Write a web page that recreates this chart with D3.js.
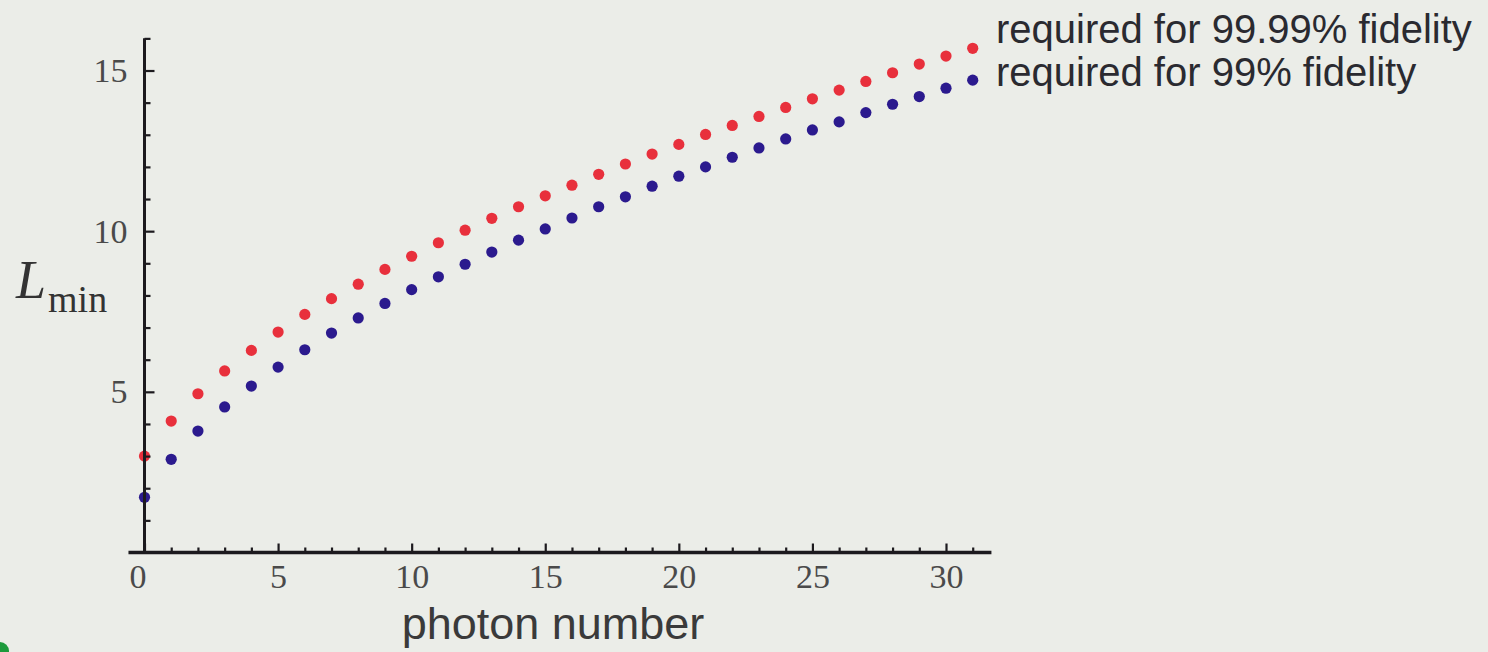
<!DOCTYPE html>
<html>
<head>
<meta charset="utf-8">
<script src="https://cdn.jsdelivr.net/npm/d3@7"></script>
<style>
  html, body { margin: 0; padding: 0; background: #ebede8; }
  svg { display: block; }
</style>
</head>
<body>
<svg id="chart" width="1488" height="652"></svg>
<script>
// photon number n = 0..31
const photonNumbers = d3.range(0, 32);

// minimum L needed for 99.99% fidelity
const lmin9999 = [3.00, 4.09, 4.94, 5.65, 6.29, 6.86, 7.41, 7.90, 8.35, 8.81,
                  9.22, 9.64, 10.03, 10.40, 10.76, 11.10, 11.43, 11.77, 12.09, 12.40,
                  12.70, 13.01, 13.29, 13.57, 13.85, 14.12, 14.39, 14.66, 14.93, 15.20,
                  15.45, 15.69];

// minimum L needed for 99% fidelity
const lmin99 = [1.72, 2.90, 3.78, 4.53, 5.18, 5.77, 6.31, 6.83, 7.30, 7.75,
                8.18, 8.58, 8.97, 9.35, 9.72, 10.07, 10.41, 10.76, 11.07, 11.40,
                11.71, 12.00, 12.30, 12.59, 12.87, 13.15, 13.40, 13.69, 13.95, 14.19,
                14.45, 14.70];

const seriesLabels = ["required for 99.99% fidelity", "required for 99% fidelity"];
const xMajorTicks = [0, 5, 10, 15, 20, 25, 30];
const yMajorTicks = [5, 10, 15];

const svg = d3.select("#chart");

const x = d3.scaleLinear().domain([0, 30]).range([144.5, 946]);
const y = d3.scaleLinear().domain([0, 15]).range([552.5, 70.5]);

const xExtent = [-0.6, 31.7];
const yExtent = [0, 16];

const series = [
  { values: lmin9999, color: "#e8303c", label: seriesLabels[0] },
  { values: lmin99,   color: "#2b1a8e", label: seriesLabels[1] }
];

// data points
const pts = svg.append("g");
series.forEach(s => {
  pts.append("g").selectAll("circle")
    .data(photonNumbers)
    .join("circle")
    .attr("cx", d => x(d))
    .attr("cy", (d, i) => y(s.values[i]))
    .attr("r", 5.6)
    .attr("fill", s.color);
});

// axes
const axisColor = "#1c1a1e";
const tickFont = "'Liberation Serif', 'Times New Roman', serif";

const gx = svg.append("g").attr("transform", `translate(0,${y(0)})`);
gx.call(d3.axisBottom(x).tickValues(d3.range(1, 32).filter(v => v % 5 !== 0))
  .tickSize(-5).tickFormat(""));
gx.call(g => g.selectAll(".domain").remove());
const gxMajor = svg.append("g").attr("transform", `translate(0,${y(0)})`);
gxMajor.call(d3.axisBottom(x).tickValues(xMajorTicks).tickSize(-9).tickPadding(11)
  .tickFormat(d3.format("d")));
gxMajor.call(g => g.selectAll(".domain").remove());
// origin label sits just left of the crossing point
gxMajor.selectAll(".tick text").filter(d => d === 0).attr("dx", -7);

const gy = svg.append("g").attr("transform", `translate(${x(0)},0)`);
gy.call(d3.axisLeft(y).tickValues(d3.range(1, 17).filter(v => v % 5 !== 0))
  .tickSize(-6).tickFormat(""));
gy.call(g => g.selectAll(".domain").remove());
const gyMajor = svg.append("g").attr("transform", `translate(${x(0)},0)`);
gyMajor.call(d3.axisLeft(y).tickValues(yMajorTicks).tickSize(-10).tickPadding(17)
  .tickFormat(d3.format("d")));
gyMajor.call(g => g.selectAll(".domain").remove());

svg.selectAll(".tick line").attr("stroke", axisColor).attr("stroke-width", 2.2);
svg.selectAll(".tick text")
  .attr("font-family", tickFont)
  .attr("font-size", 34)
  .attr("fill", "#4a4a4a");

// axis lines
svg.append("line")
  .attr("x1", x(xExtent[0])).attr("x2", x(xExtent[1]))
  .attr("y1", y(0)).attr("y2", y(0))
  .attr("stroke", axisColor).attr("stroke-width", 3.5);
svg.append("line")
  .attr("x1", x(0)).attr("x2", x(0))
  .attr("y1", y(yExtent[0])).attr("y2", y(yExtent[1]))
  .attr("stroke", axisColor).attr("stroke-width", 3);

// y axis label: L_min
const yl = svg.append("text")
  .attr("x", 16).attr("y", 298)
  .attr("font-family", tickFont)
  .attr("fill", "#333");
yl.append("tspan").attr("font-style", "italic").attr("font-size", 54).text("L");
yl.append("tspan").attr("font-size", 38).attr("dy", 14).attr("dx", 2).text("min");

// x axis label
svg.append("text")
  .attr("x", 553).attr("y", 639)
  .attr("text-anchor", "middle")
  .attr("font-family", "'Liberation Sans', Arial, sans-serif")
  .attr("font-size", 45)
  .attr("fill", "#3a3a3a")
  .text("photon number");

// series labels at the end of each curve
svg.append("g").selectAll("text")
  .data(series)
  .join("text")
  .attr("x", 996)
  .attr("y", (d, i) => 43 + i * 43)
  .attr("font-family", "'Liberation Sans', Arial, sans-serif")
  .attr("font-size", 40)
  .attr("fill", "#2a2a30")
  .text(d => d.label);

// small green marker at the lower-left corner
svg.append("circle")
  .attr("cx", 0).attr("cy", 651).attr("r", 9)
  .attr("fill", "#1d9a3c");
</script>
</body>
</html>
